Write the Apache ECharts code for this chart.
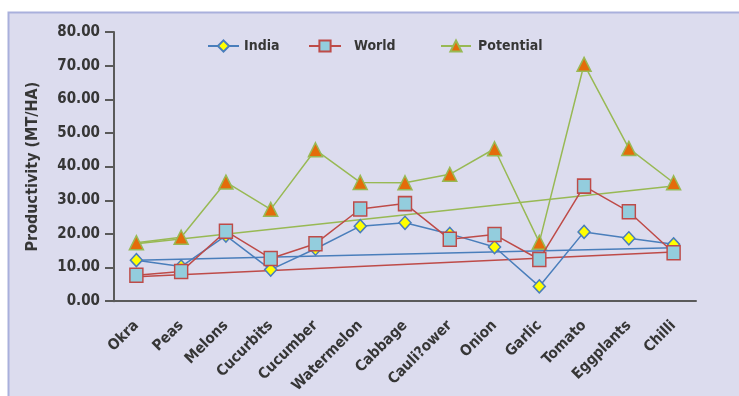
<!DOCTYPE html>
<html>
<head>
<meta charset="utf-8">
<script src="https://cdn.jsdelivr.net/npm/echarts@6/dist/echarts.min.js"></script>
<style>
  html, body { margin: 0; padding: 0; background: #ffffff; }
  #chart { width: 739px; height: 396px; }
</style>
</head>
<body>
<div id="chart"></div>
<script>
// Vegetable productivity (MT/HA): India, World and Potential yields
const categories = ['Okra', 'Peas', 'Melons', 'Cucurbits', 'Cucumber', 'Watermelon', 'Cabbage',
  'Cauli?ower', 'Onion', 'Garlic', 'Tomato', 'Eggplants', 'Chilli'];
const india     = [12.2, 10.3, 19.5, 9.4, 15.6, 22.3, 23.3, 20.0, 16.1, 4.4, 20.6, 18.7, 16.9];
const world     = [7.7, 8.8, 20.8, 12.7, 17.1, 27.4, 29.0, 18.4, 19.8, 12.4, 34.2, 26.6, 14.4];
const potential = [17.4, 19.0, 35.4, 27.3, 45.0, 35.3, 35.2, 37.7, 45.3, 17.5, 70.4, 45.4, 35.2];
// Trend lines: values at the first and last category
const indiaTrend     = [12.2, 15.9];
const worldTrend     = [7.3, 14.6];
const potentialTrend = [17.1, 34.2];
const yTicks = [0, 10, 20, 30, 40, 50, 60, 70, 80];

const FONT = '"DejaVu Sans Condensed", "Liberation Sans", sans-serif';
const TEXT = '#363636';

const C = {
  india:  { line: '#4a7ebb', fill: '#ffff00' },
  world:  { line: '#be4b48', fill: '#93cddd' },
  pot:    { line: '#98b954', fill: '#e46c0a' }
};

function trend(vals, color) {
  return {
    type: 'line',
    data: [[categories[0], vals[0]], [categories[categories.length - 1], vals[1]]],
    symbol: 'none',
    lineStyle: { color: color, width: 1.5 },
    silent: true,
    z: 1
  };
}

function legend(name, left, width, textGap) {
  return {
    top: 39, left: left, padding: 0,
    itemWidth: width, itemHeight: 14,
    textStyle: {
      fontFamily: FONT, fontWeight: 'bold', fontSize: 14, color: TEXT,
      padding: [0, 0, 0, textGap]
    },
    data: [name]
  };
}

const chart = echarts.init(document.getElementById('chart'), null, { renderer: 'canvas' });
chart.setOption({
  animation: false,
  graphic: [{
    type: 'rect',
    shape: { x: 8.5, y: 12.5, width: 760, height: 420 },
    style: { fill: '#dcdcee', stroke: '#a9b0dc', lineWidth: 2 },
    z: -10, silent: true
  }],
  grid: { left: 114, right: 43, top: 32, bottom: 94, containLabel: false },
  legend: [legend('India', 207, 31, 0), legend('World', 308, 32, 8), legend('Potential', 440, 30, 2)],
  xAxis: {
    type: 'category',
    data: categories,
    boundaryGap: true,
    axisLine: { lineStyle: { color: '#5a5a5a', width: 2 } },
    axisTick: { alignWithLabel: false, length: 9, lineStyle: { color: '#5a5a5a', width: 2 } },
    axisLabel: {
      rotate: 45, interval: 0, margin: 22,
      fontFamily: FONT, fontWeight: 'bold', fontSize: 15, color: TEXT
    },
    splitLine: { show: false }
  },
  yAxis: {
    type: 'value',
    min: 0, max: 80, interval: 10,
    name: 'Productivity (MT/HA)',
    nameLocation: 'middle',
    nameGap: 73,
    nameTextStyle: { fontFamily: FONT, fontWeight: 'bold', fontSize: 16, color: TEXT },
    axisLine: { show: true, lineStyle: { color: '#5a5a5a', width: 2 } },
    axisTick: { show: true, length: 9, lineStyle: { color: '#5a5a5a', width: 2 } },
    axisLabel: {
      margin: 14,
      fontFamily: FONT, fontWeight: 'bold', fontSize: 15, color: TEXT,
      formatter: v => yTicks.includes(v) ? v.toFixed(2) : ''
    },
    splitLine: { show: false }
  },
  series: [
    trend(indiaTrend, C.india.line),
    trend(worldTrend, C.world.line),
    trend(potentialTrend, C.pot.line),
    {
      name: 'India', type: 'line', data: india,
      symbol: 'diamond', symbolSize: [12, 13],
      lineStyle: { color: C.india.line, width: 1.5 },
      itemStyle: { color: C.india.fill, borderColor: C.india.line, borderWidth: 1.5 },
      z: 3
    },
    {
      name: 'World', type: 'line', data: world,
      symbol: 'rect', symbolSize: [13, 14],
      lineStyle: { color: C.world.line, width: 1.5 },
      itemStyle: { color: C.world.fill, borderColor: C.world.line, borderWidth: 1.5 },
      z: 4
    },
    {
      name: 'Potential', type: 'line', data: potential,
      symbol: 'triangle', symbolSize: [14, 14],
      lineStyle: { color: C.pot.line, width: 1.5 },
      itemStyle: { color: C.pot.fill, borderColor: C.pot.line, borderWidth: 1.5 },
      z: 2
    }
  ]
});
</script>
</body>
</html>
